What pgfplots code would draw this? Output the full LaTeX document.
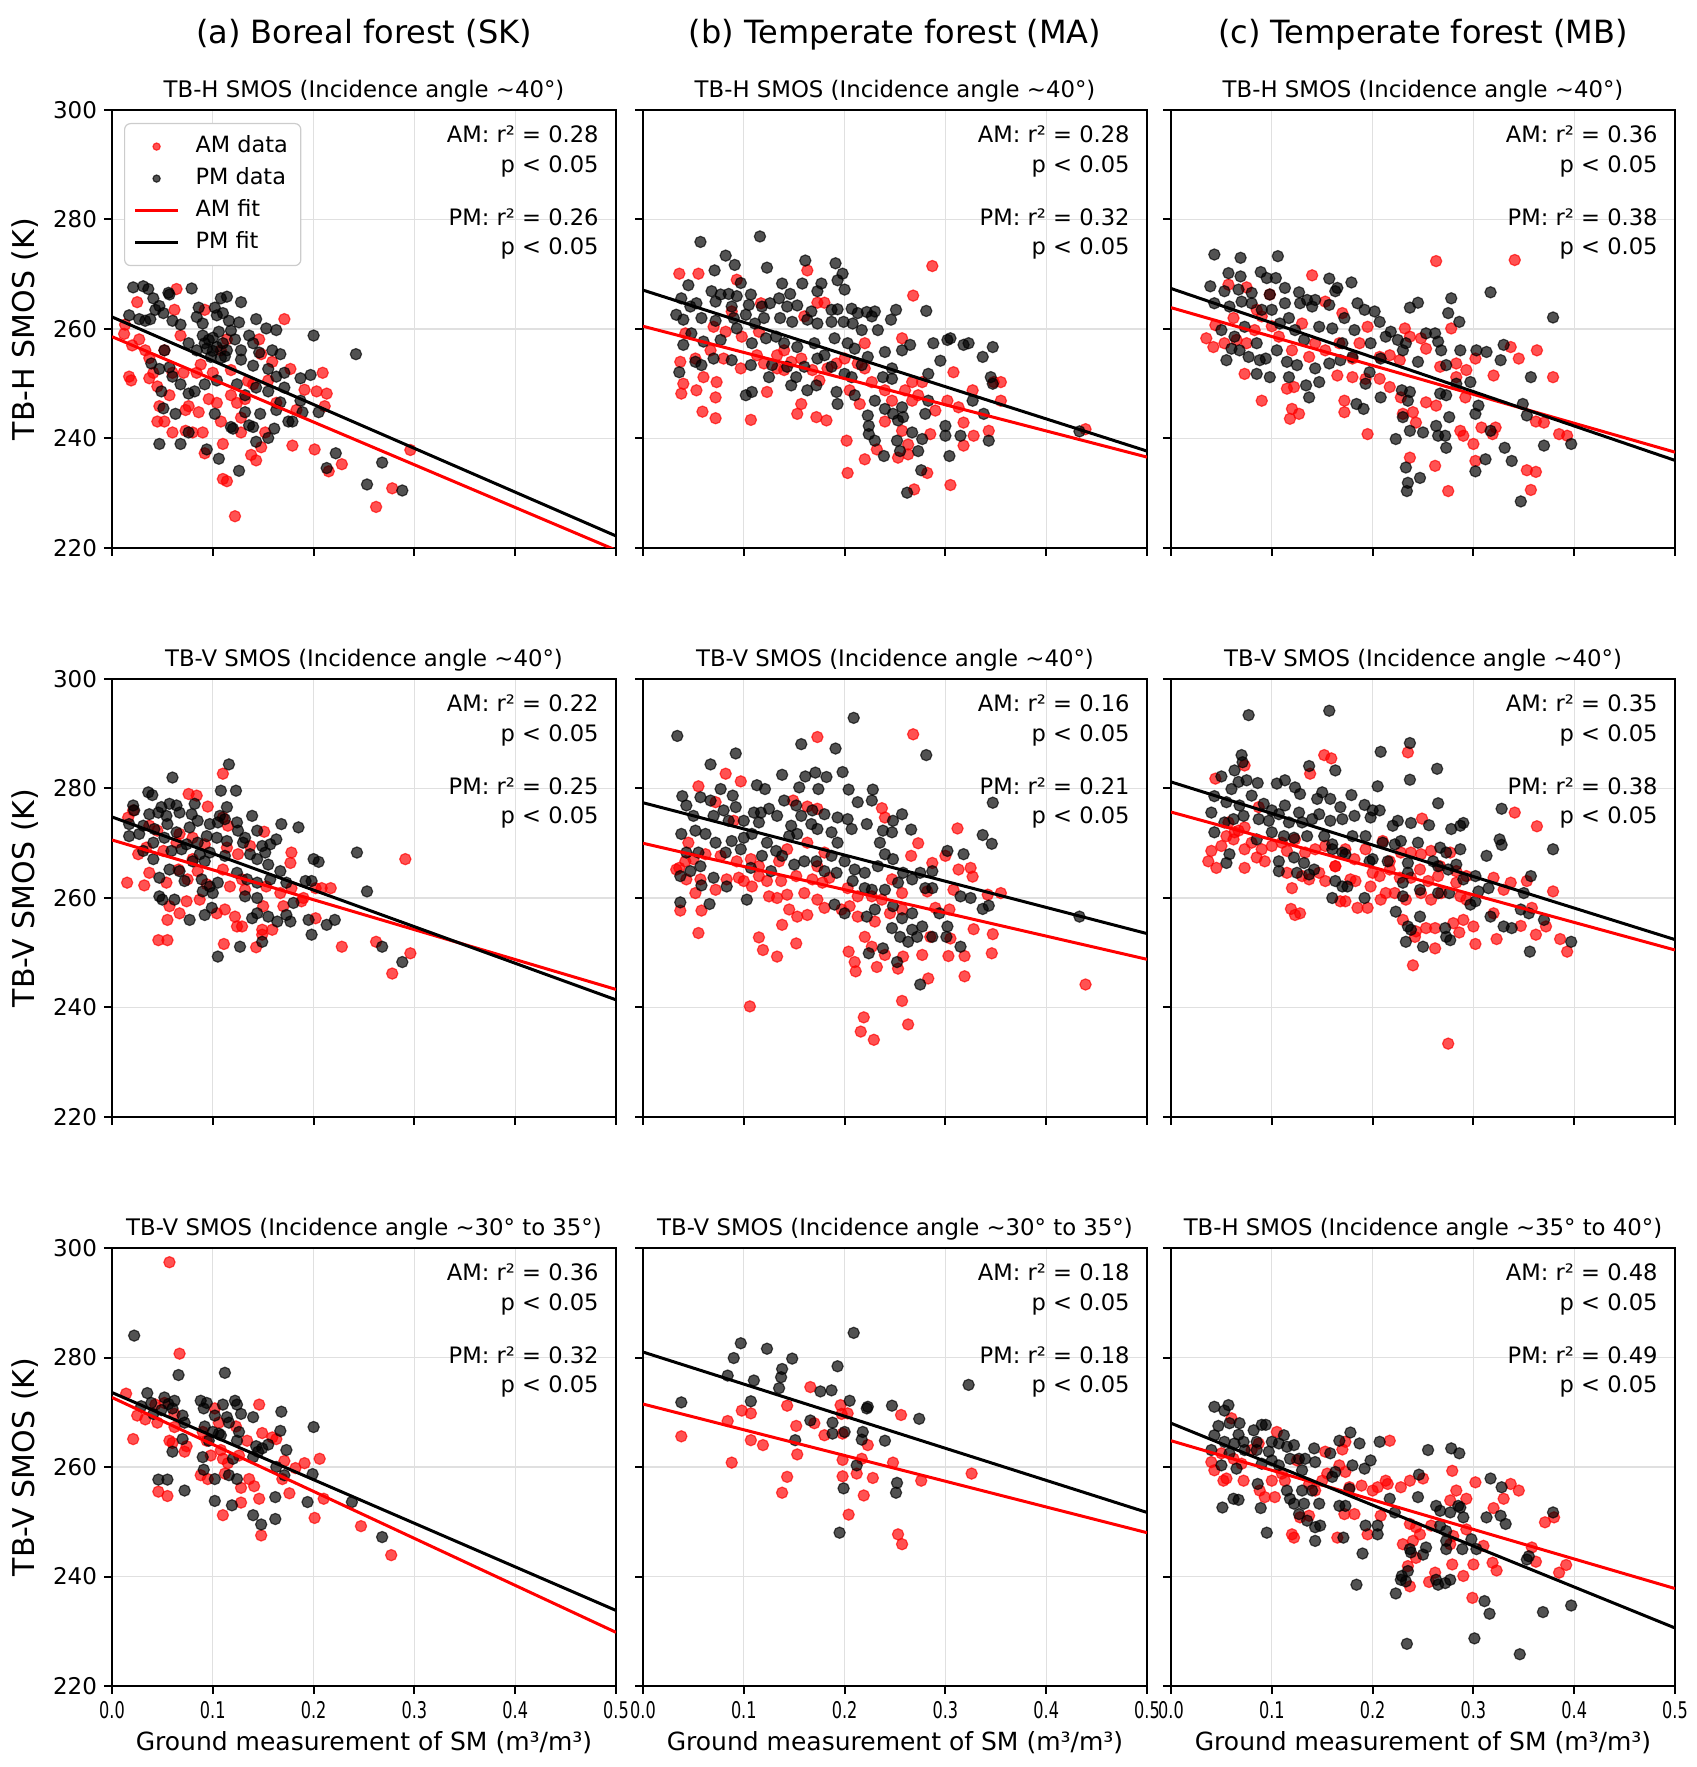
\documentclass[border=0pt]{standalone}
\usepackage{fontspec}
\setmainfont{DejaVu Sans}
\usepackage{graphicx}
\usepackage{pgfplots}
\pgfplotsset{compat=1.18}
\newcommand{\xt}[1]{\scalebox{0.7}[1]{#1}}
\newcommand{\annf}{\fontsize{11.3}{13.5}\selectfont}
\newcommand{\ann}[2]{%
\node[anchor=base east,font=\annf,inner sep=0pt,xshift=-8.5pt,yshift=-16.4pt] at (rel axis cs:1,1) {AM: r² = #1};
\node[anchor=base east,font=\annf,inner sep=0pt,xshift=-8.5pt,yshift=-31.1pt] at (rel axis cs:1,1) {p < 0.05};
\node[anchor=base east,font=\annf,inner sep=0pt,xshift=-8.5pt,yshift=-57.6pt] at (rel axis cs:1,1) {PM: r² = #2};
\node[anchor=base east,font=\annf,inner sep=0pt,xshift=-8.5pt,yshift=-72.4pt] at (rel axis cs:1,1) {p < 0.05};
}
\newcommand{\coltitle}[1]{\node[anchor=base,font=\fontsize{16}{19}\selectfont,inner sep=0pt,yshift=33pt] at (rel axis cs:0.5,1) {#1};}
\pgfplotsset{
 panel/.style={
  scale only axis, width=252pt, height=219pt,
  xmin=0, xmax=0.5, ymin=220, ymax=300,
  xtick={0,0.1,0.2,0.3,0.4,0.5}, ytick={220,240,260,280,300},
  xticklabels={}, yticklabels={},
  tick pos=left, tick align=outside,
  major tick length=4pt,
  tick style={black, line width=1pt},
  axis line style={black, line width=1.1pt},
  grid=major, major grid style={black!12, line width=0.6pt},
  clip mode=individual,
  ticklabel style={font=\fontsize{11.5}{13}\selectfont},
  every axis title/.style={at={(0.5,1)}, anchor=base, yshift=6.3pt, inner sep=0pt, font=\fontsize{11.4}{13}\selectfont},
 },
 leftcol/.style={yticklabels={220,240,260,280,300},
  ylabel style={font=\fontsize{15}{17}\selectfont, at={(axis description cs:-0.1726,0.5)}, anchor=center}},
 botrow/.style={xticklabels={\xt{0.0},\xt{0.1},\xt{0.2},\xt{0.3},\xt{0.4},\xt{0.5}},
  xlabel={Ground measurement of SM (m³/m³)},
  xlabel style={font=\fontsize{12.5}{15}\selectfont, at={(axis description cs:0.5,-0.1288)}, anchor=center}},
 am/.style={only marks, mark=*, mark size=2.8pt, mark options={fill=red, draw=red, opacity=0.68, line width=0.6pt}},
 pm/.style={only marks, mark=*, mark size=2.8pt, mark options={fill=black, draw=black, opacity=0.68, line width=0.6pt}},
 amfit/.style={red, line width=1.5pt, no marks},
 pmfit/.style={black, line width=1.5pt, no marks},
}
\begin{document}
\begin{tikzpicture}
\path[use as bounding box] (0,0) rectangle (848.5pt,883.5pt);
% ---------------- Row 1, panel a
\begin{axis}[panel, leftcol, at={(56pt,609.5pt)}, anchor=south west,
 title={TB-H SMOS (Incidence angle \textasciitilde40°)}, ylabel={TB-H SMOS (K)},
 legend image code/.code={\draw[mark repeat=2,mark phase=2,#1] plot coordinates {(0pt,0pt) (10.75pt,0pt) (21.5pt,0pt)};},
 legend image post style={mark size=1.8pt},
 legend style={at={(0,1)}, anchor=north west, xshift=6pt, yshift=-6.5pt, draw=black!20, rounded corners=3pt, fill=white, font=\fontsize{11.2}{13}\selectfont, inner xsep=4.5pt, inner ysep=4.5pt, column sep=6pt, row sep=2pt, nodes={inner xsep=2pt, inner ysep=1.5pt, text height=8.5pt, text depth=2.5pt}, line width=0.6pt},
 legend cell align=left]
\addplot[am] coordinates {(0.013,260.8)(0.012,259.1)(0.017,251.3)(0.019,250.6)(0.025,264.9)(0.027,258.1)(0.033,256.1)(0.037,251.0)(0.041,252.0)(0.045,243.1)(0.047,245.9)(0.052,243.1)(0.057,247.9)(0.062,263.5)(0.064,267.3)(0.068,258.8)(0.071,252.0)(0.073,245.2)(0.076,245.9)(0.080,241.1)(0.084,252.0)(0.090,241.1)(0.092,237.3)(0.092,263.5)(0.096,247.2)(0.100,252.0)(0.104,246.5)(0.108,243.1)(0.110,239.0)(0.110,232.6)(0.114,232.2)(0.114,258.1)(0.118,247.9)(0.122,225.8)(0.124,246.5)(0.128,241.1)(0.132,247.2)(0.138,237.0)(0.143,236.0)(0.146,258.1)(0.148,238.4)(0.152,241.1)(0.159,254.0)(0.163,246.5)(0.171,261.8)(0.177,252.7)(0.179,238.7)(0.183,245.2)(0.191,248.9)(0.201,238.0)(0.203,248.6)(0.209,252.0)(0.213,248.2)(0.211,245.9)(0.215,234.0)(0.228,235.3)(0.262,227.5)(0.278,230.9)(0.296,237.9)(0.060,241.1)(0.073,241.4)(0.128,243.8)(0.108,256.1)(0.037,254.7)(0.052,256.1)(0.060,252.0)(0.086,244.8)(0.140,249.9)(0.148,255.4)(0.155,250.6)(0.020,257.0)(0.045,249.5)(0.088,253.5)(0.118,252.5)(0.135,250.5)};
\addplot[pm] coordinates {(0.021,267.6)(0.031,267.8)(0.036,267.3)(0.041,265.6)(0.043,263.5)(0.017,262.5)(0.027,261.8)(0.038,261.8)(0.047,264.2)(0.057,266.3)(0.056,266.6)(0.079,267.4)(0.051,262.9)(0.060,261.5)(0.068,260.8)(0.084,262.2)(0.086,263.9)(0.102,263.9)(0.108,265.6)(0.114,265.9)(0.110,262.9)(0.116,261.5)(0.128,264.9)(0.126,261.2)(0.143,261.8)(0.153,260.1)(0.163,259.8)(0.136,258.8)(0.090,258.8)(0.092,257.4)(0.094,256.4)(0.104,256.7)(0.110,257.4)(0.114,256.1)(0.122,258.1)(0.128,256.1)(0.140,257.4)(0.146,255.7)(0.159,256.1)(0.167,255.4)(0.171,252.0)(0.187,251.0)(0.197,251.6)(0.200,258.8)(0.242,255.4)(0.039,253.7)(0.047,252.7)(0.057,253.0)(0.060,251.3)(0.068,249.9)(0.049,248.6)(0.082,248.6)(0.092,249.9)(0.104,250.6)(0.108,254.7)(0.124,249.9)(0.132,247.9)(0.143,249.3)(0.155,252.7)(0.163,251.3)(0.171,249.3)(0.155,248.6)(0.163,245.2)(0.175,243.1)(0.189,244.8)(0.205,244.8)(0.147,244.5)(0.132,244.8)(0.136,242.4)(0.140,242.1)(0.118,242.1)(0.102,244.5)(0.076,248.2)(0.051,245.5)(0.063,244.5)(0.047,239.0)(0.068,239.0)(0.076,241.1)(0.094,238.0)(0.106,236.3)(0.126,234.1)(0.143,239.4)(0.155,240.1)(0.161,241.8)(0.179,243.1)(0.222,237.3)(0.213,234.6)(0.268,235.6)(0.253,231.6)(0.288,230.5)(0.120,241.8)(0.033,261.5)(0.052,256.1)(0.076,257.4)(0.084,256.1)(0.100,258.4)(0.128,254.4)(0.140,253.3)(0.167,246.6)(0.187,246.9)(0.096,258.0)(0.100,256.0)(0.098,254.9)(0.106,259.5)(0.112,255.0)(0.118,259.7)(0.104,262.5)(0.090,261.0)};
\addplot[amfit] coordinates {(0,258.6)(0.5,219.6)};
\addplot[pmfit] coordinates {(0,262.2)(0.5,222.2)};
\legend{AM data, PM data, AM fit, PM fit}
\ann{0.28}{0.26}
\coltitle{(a) Boreal forest (SK)}
\end{axis}
% ---------------- Row 1, panel b
\begin{axis}[panel, at={(321.5pt,609.5pt)}, anchor=south west,
 title={TB-H SMOS (Incidence angle \textasciitilde40°)}]
\addplot[am] coordinates {(0.036,270.1)(0.055,270.1)(0.093,269.0)(0.163,270.7)(0.287,271.5)(0.268,266.1)(0.173,264.8)(0.180,264.8)(0.088,263.2)(0.117,264.7)(0.160,262.3)(0.070,260.4)(0.082,259.5)(0.098,258.6)(0.115,259.5)(0.042,259.2)(0.037,254.0)(0.052,254.6)(0.067,256.1)(0.080,254.6)(0.097,252.8)(0.113,255.2)(0.120,253.7)(0.133,255.2)(0.140,256.1)(0.147,254.0)(0.157,254.6)(0.168,252.5)(0.175,250.6)(0.183,252.8)(0.192,253.7)(0.200,254.6)(0.213,253.7)(0.220,252.8)(0.220,257.4)(0.227,250.3)(0.240,248.8)(0.247,246.9)(0.257,258.3)(0.267,250.3)(0.260,248.8)(0.273,247.9)(0.277,250.3)(0.267,246.9)(0.290,245.1)(0.308,252.1)(0.302,246.9)(0.313,245.7)(0.327,248.8)(0.355,250.3)(0.355,246.9)(0.348,250.3)(0.318,242.9)(0.328,240.5)(0.343,241.4)(0.318,238.7)(0.038,248.2)(0.040,250.0)(0.053,248.8)(0.060,251.2)(0.072,247.5)(0.073,250.3)(0.059,244.9)(0.072,243.7)(0.107,243.4)(0.123,248.5)(0.140,252.5)(0.153,244.5)(0.157,246.3)(0.172,243.9)(0.182,243.3)(0.202,239.6)(0.203,233.7)(0.205,248.8)(0.215,246.3)(0.220,236.2)(0.232,238.0)(0.240,243.1)(0.253,236.5)(0.257,241.4)(0.263,238.9)(0.263,237.1)(0.269,230.7)(0.282,233.7)(0.285,240.8)(0.305,231.5)(0.439,241.7)(0.133,252.8)};
\addplot[pm] coordinates {(0.057,275.9)(0.116,276.9)(0.082,273.4)(0.091,271.7)(0.071,270.7)(0.123,271.2)(0.161,272.5)(0.191,272.0)(0.198,270.1)(0.193,268.9)(0.200,267.2)(0.045,268.0)(0.097,268.4)(0.068,266.9)(0.077,266.3)(0.085,266.4)(0.093,266.0)(0.107,266.3)(0.138,268.3)(0.158,268.3)(0.177,268.3)(0.173,266.9)(0.146,266.4)(0.135,265.6)(0.038,265.6)(0.047,264.1)(0.053,264.7)(0.072,265.0)(0.088,264.1)(0.105,264.4)(0.118,264.1)(0.126,264.7)(0.143,264.1)(0.153,264.3)(0.167,263.2)(0.187,263.5)(0.193,263.6)(0.207,263.7)(0.213,262.9)(0.222,263.1)(0.230,263.2)(0.251,263.5)(0.281,263.3)(0.246,261.7)(0.033,262.6)(0.040,261.7)(0.058,262.0)(0.072,261.5)(0.090,262.0)(0.102,262.6)(0.111,261.0)(0.120,262.0)(0.136,262.0)(0.148,261.3)(0.163,261.7)(0.173,261.0)(0.187,261.3)(0.199,261.3)(0.208,261.0)(0.227,262.3)(0.217,259.8)(0.233,259.8)(0.048,259.2)(0.040,257.1)(0.060,257.7)(0.077,258.0)(0.093,260.1)(0.108,257.4)(0.122,258.3)(0.132,258.6)(0.140,257.4)(0.153,256.7)(0.170,257.4)(0.180,255.2)(0.190,258.3)(0.203,257.4)(0.210,256.4)(0.223,254.9)(0.240,255.8)(0.257,256.1)(0.265,257.1)(0.288,257.4)(0.302,258.0)(0.305,258.3)(0.318,257.1)(0.323,257.4)(0.347,256.7)(0.337,254.9)(0.295,254.2)(0.036,252.1)(0.052,254.0)(0.058,253.4)(0.070,254.6)(0.088,254.3)(0.107,253.4)(0.128,253.4)(0.143,253.1)(0.160,253.1)(0.173,254.6)(0.187,253.1)(0.200,251.8)(0.217,253.4)(0.247,252.8)(0.102,247.9)(0.108,248.5)(0.125,251.2)(0.147,249.7)(0.152,251.2)(0.163,248.8)(0.172,249.7)(0.192,248.5)(0.193,246.3)(0.207,251.2)(0.210,247.9)(0.230,246.9)(0.238,251.2)(0.247,250.9)(0.240,245.4)(0.248,244.5)(0.253,243.3)(0.257,245.7)(0.258,243.9)(0.267,241.1)(0.283,251.8)(0.283,246.9)(0.280,244.5)(0.277,239.9)(0.300,242.3)(0.300,240.5)(0.315,240.5)(0.327,246.9)(0.338,244.5)(0.345,251.2)(0.343,239.6)(0.347,250.0)(0.223,244.2)(0.224,242.3)(0.224,240.8)(0.230,239.6)(0.239,236.8)(0.252,239.6)(0.255,237.7)(0.273,237.7)(0.276,234.2)(0.304,236.8)(0.262,230.1)(0.433,241.3)};
\addplot[amfit] coordinates {(0,260.5)(0.5,236.6)};
\addplot[pmfit] coordinates {(0,267.1)(0.5,237.7)};
\ann{0.28}{0.32}
\coltitle{(b) Temperate forest (MA)}
\end{axis}
% ---------------- Row 1, panel c
\begin{axis}[panel, at={(585.5pt,609.5pt)}, anchor=south west,
 title={TB-H SMOS (Incidence angle \textasciitilde40°)}]
\addplot[am] coordinates {(0.140,269.8)(0.263,272.4)(0.341,272.6)(0.057,268.1)(0.075,267.6)(0.098,266.3)(0.153,265.0)(0.170,262.9)(0.195,260.4)(0.232,260.1)(0.278,260.1)(0.044,260.7)(0.035,258.3)(0.042,256.7)(0.053,257.4)(0.065,258.0)(0.075,257.4)(0.083,259.8)(0.090,262.3)(0.107,258.6)(0.120,256.1)(0.137,254.9)(0.143,257.4)(0.153,256.1)(0.167,257.4)(0.180,254.6)(0.187,257.4)(0.207,254.9)(0.217,255.2)(0.227,254.3)(0.237,258.6)(0.248,258.3)(0.253,256.4)(0.267,253.1)(0.283,253.7)(0.293,252.5)(0.302,254.6)(0.320,251.5)(0.337,256.7)(0.345,254.6)(0.363,256.1)(0.379,251.2)(0.073,251.8)(0.090,246.9)(0.115,249.1)(0.122,249.4)(0.120,245.4)(0.118,243.6)(0.127,244.5)(0.165,251.5)(0.180,251.2)(0.172,246.9)(0.172,244.8)(0.193,250.9)(0.207,250.9)(0.217,249.4)(0.228,247.5)(0.230,244.5)(0.240,244.8)(0.243,242.9)(0.253,246.6)(0.263,246.0)(0.283,251.2)(0.292,247.5)(0.287,241.4)(0.290,240.5)(0.300,239.0)(0.308,242.0)(0.322,242.0)(0.319,240.8)(0.362,243.1)(0.370,242.9)(0.385,240.8)(0.393,240.5)(0.195,240.8)(0.237,236.5)(0.262,235.0)(0.275,230.4)(0.302,235.9)(0.353,234.2)(0.362,233.9)(0.357,230.6)(0.062,262.0)(0.085,263.5)(0.100,260.5)(0.130,261.0)};
\addplot[pm] coordinates {(0.043,273.6)(0.069,273.0)(0.106,273.3)(0.057,270.2)(0.069,269.6)(0.089,270.4)(0.095,269.3)(0.104,269.3)(0.039,267.8)(0.053,266.9)(0.067,267.2)(0.080,266.6)(0.098,266.3)(0.113,267.5)(0.127,266.7)(0.135,265.3)(0.143,265.3)(0.157,269.2)(0.165,267.5)(0.179,268.5)(0.163,266.9)(0.043,264.7)(0.058,264.1)(0.070,265.0)(0.080,264.7)(0.090,263.5)(0.100,263.5)(0.113,264.7)(0.128,264.7)(0.140,264.1)(0.157,264.4)(0.185,264.7)(0.192,263.5)(0.202,263.2)(0.207,261.3)(0.237,263.9)(0.245,264.8)(0.278,265.6)(0.317,266.7)(0.275,262.9)(0.286,261.3)(0.379,262.1)(0.050,259.8)(0.063,258.6)(0.073,260.4)(0.085,257.4)(0.108,261.0)(0.117,262.0)(0.123,259.8)(0.132,258.0)(0.147,260.4)(0.160,260.1)(0.172,262.0)(0.182,259.8)(0.170,257.4)(0.198,257.4)(0.213,258.6)(0.218,259.5)(0.225,258.0)(0.233,257.4)(0.253,259.2)(0.262,259.2)(0.265,257.7)(0.287,256.1)(0.303,256.1)(0.313,255.8)(0.330,257.1)(0.327,254.3)(0.055,254.3)(0.060,256.4)(0.068,256.1)(0.077,254.9)(0.088,254.3)(0.094,254.6)(0.105,256.1)(0.115,254.0)(0.125,253.4)(0.143,252.8)(0.157,253.7)(0.168,254.3)(0.180,254.9)(0.197,252.1)(0.208,254.6)(0.230,256.1)(0.245,254.0)(0.268,256.1)(0.273,253.4)(0.085,251.8)(0.098,251.2)(0.117,251.2)(0.134,249.7)(0.137,247.5)(0.147,250.3)(0.193,250.0)(0.184,246.3)(0.191,245.4)(0.208,247.5)(0.229,248.8)(0.237,248.5)(0.235,246.9)(0.267,248.2)(0.273,247.9)(0.283,250.0)(0.297,250.3)(0.357,251.2)(0.305,246.0)(0.302,244.5)(0.276,243.9)(0.230,243.9)(0.237,241.4)(0.223,239.9)(0.250,241.1)(0.263,242.3)(0.265,240.5)(0.272,240.5)(0.273,238.3)(0.317,241.4)(0.331,238.3)(0.349,246.3)(0.353,244.2)(0.370,238.7)(0.397,239.0)(0.312,236.2)(0.302,234.0)(0.338,235.9)(0.233,234.7)(0.235,231.9)(0.234,230.4)(0.247,232.8)(0.347,228.5)};
\addplot[amfit] coordinates {(0,263.9)(0.5,237.5)};
\addplot[pmfit] coordinates {(0,267.4)(0.5,236.0)};
\ann{0.36}{0.38}
\coltitle{(c) Temperate forest (MB)}
\end{axis}
% ---------------- Row 2, panel a
\begin{axis}[panel, leftcol, at={(56pt,325pt)}, anchor=south west,
 title={TB-V SMOS (Incidence angle \textasciitilde40°)}, ylabel={TB-V SMOS (K)}]
\addplot[am] coordinates {(0.110,282.7)(0.076,279.0)(0.084,278.7)(0.095,276.7)(0.016,274.7)(0.021,276.0)(0.037,273.2)(0.045,272.3)(0.067,271.7)(0.080,271.0)(0.110,274.7)(0.115,273.2)(0.151,272.1)(0.026,268.0)(0.034,269.2)(0.051,268.6)(0.064,270.1)(0.080,267.1)(0.092,269.8)(0.114,269.2)(0.125,268.0)(0.137,269.5)(0.178,268.3)(0.177,266.4)(0.015,262.8)(0.032,262.3)(0.037,264.6)(0.054,262.8)(0.066,265.2)(0.075,263.4)(0.085,264.9)(0.094,262.5)(0.110,265.2)(0.117,262.1)(0.129,263.4)(0.132,261.5)(0.153,262.1)(0.167,260.9)(0.178,261.8)(0.190,260.0)(0.202,261.8)(0.208,261.8)(0.217,261.8)(0.057,258.5)(0.067,257.2)(0.074,259.4)(0.087,259.7)(0.104,257.2)(0.112,257.9)(0.122,256.6)(0.124,254.8)(0.129,254.8)(0.150,258.5)(0.170,258.5)(0.188,259.4)(0.202,256.3)(0.055,256.0)(0.149,254.2)(0.159,254.2)(0.149,253.3)(0.046,252.3)(0.055,252.3)(0.111,251.6)(0.143,251.0)(0.228,251.1)(0.262,252.0)(0.291,267.1)(0.296,249.9)(0.278,246.2)};
\addplot[pm] coordinates {(0.116,284.4)(0.060,282.0)(0.036,279.3)(0.040,278.8)(0.108,279.6)(0.123,279.6)(0.021,276.9)(0.049,276.6)(0.057,277.2)(0.064,276.9)(0.082,277.2)(0.114,276.6)(0.022,276.0)(0.037,275.3)(0.046,275.6)(0.054,275.0)(0.067,275.6)(0.079,275.3)(0.107,275.0)(0.112,274.4)(0.139,275.0)(0.168,273.5)(0.185,272.9)(0.017,273.5)(0.031,273.2)(0.042,272.6)(0.055,273.5)(0.064,272.0)(0.077,272.9)(0.085,274.1)(0.097,273.5)(0.105,273.8)(0.124,273.8)(0.125,272.3)(0.132,271.0)(0.144,272.3)(0.017,271.3)(0.027,271.7)(0.041,270.1)(0.052,271.0)(0.074,269.8)(0.085,270.1)(0.094,271.3)(0.104,271.0)(0.114,270.4)(0.130,270.1)(0.149,269.5)(0.157,269.8)(0.163,270.7)(0.031,268.6)(0.059,268.6)(0.069,268.9)(0.087,268.0)(0.097,268.3)(0.112,267.7)(0.137,268.0)(0.152,268.3)(0.041,267.1)(0.057,265.2)(0.080,266.7)(0.092,266.7)(0.144,267.1)(0.155,266.1)(0.167,264.9)(0.047,263.7)(0.067,264.9)(0.072,263.1)(0.089,263.4)(0.097,262.1)(0.105,262.8)(0.124,264.6)(0.134,263.4)(0.144,262.8)(0.157,263.4)(0.173,262.8)(0.200,267.1)(0.205,266.6)(0.192,263.1)(0.198,263.1)(0.243,268.3)(0.253,261.2)(0.047,260.3)(0.050,259.7)(0.062,259.7)(0.090,261.2)(0.100,260.9)(0.132,260.3)(0.144,260.0)(0.180,259.1)(0.077,256.0)(0.092,256.9)(0.099,258.2)(0.139,256.3)(0.144,257.2)(0.155,256.6)(0.164,255.7)(0.173,256.9)(0.177,255.7)(0.195,256.0)(0.213,255.1)(0.221,256.0)(0.198,253.3)(0.149,252.0)(0.127,251.1)(0.105,249.3)(0.268,251.1)(0.288,248.3)};
\addplot[amfit] coordinates {(0,270.6)(0.5,243.3)};
\addplot[pmfit] coordinates {(0,274.8)(0.5,241.4)};
\ann{0.22}{0.25}
\end{axis}
% ---------------- Row 2, panel b
\begin{axis}[panel, at={(321.5pt,325pt)}, anchor=south west,
 title={TB-V SMOS (Incidence angle \textasciitilde40°)}]
\addplot[am] coordinates {(0.173,289.4)(0.268,289.9)(0.082,282.7)(0.097,281.3)(0.055,280.4)(0.072,277.5)(0.163,276.7)(0.173,276.3)(0.237,276.4)(0.240,274.7)(0.149,277.8)(0.090,274.1)(0.312,272.7)(0.273,270.0)(0.266,267.7)(0.287,266.4)(0.313,265.2)(0.325,265.5)(0.327,263.9)(0.300,267.7)(0.036,265.5)(0.045,270.1)(0.042,266.7)(0.050,267.1)(0.062,268.0)(0.077,267.7)(0.093,266.7)(0.107,267.1)(0.115,265.8)(0.135,266.7)(0.143,268.9)(0.163,270.1)(0.180,268.3)(0.173,265.8)(0.033,265.2)(0.043,263.4)(0.052,260.9)(0.057,263.4)(0.072,261.5)(0.083,263.4)(0.095,263.7)(0.100,263.1)(0.108,262.1)(0.115,264.0)(0.123,263.1)(0.137,263.1)(0.143,260.6)(0.152,264.0)(0.160,260.9)(0.168,263.4)(0.178,262.8)(0.185,263.7)(0.203,261.8)(0.213,260.3)(0.227,260.3)(0.237,259.7)(0.247,263.4)(0.257,260.9)(0.282,261.2)(0.308,261.5)(0.342,260.6)(0.355,260.9)(0.037,257.7)(0.058,257.7)(0.125,260.3)(0.133,260.0)(0.145,257.9)(0.153,256.6)(0.163,256.9)(0.173,259.7)(0.180,258.2)(0.197,257.9)(0.205,258.5)(0.213,256.6)(0.230,255.7)(0.245,257.2)(0.257,257.9)(0.290,258.2)(0.304,257.9)(0.328,254.3)(0.347,253.4)(0.055,253.6)(0.138,255.1)(0.115,252.8)(0.119,250.5)(0.133,249.3)(0.152,251.7)(0.204,250.2)(0.210,248.3)(0.211,246.6)(0.220,252.9)(0.227,251.1)(0.232,247.4)(0.240,249.6)(0.253,247.1)(0.258,249.3)(0.277,249.6)(0.283,245.3)(0.285,252.9)(0.303,249.4)(0.305,252.6)(0.319,249.4)(0.319,245.7)(0.346,249.9)(0.257,241.2)(0.106,240.2)(0.219,238.2)(0.216,235.6)(0.229,234.1)(0.263,236.9)(0.439,244.2)};
\addplot[pm] coordinates {(0.034,289.6)(0.209,292.9)(0.157,288.1)(0.191,287.3)(0.281,286.1)(0.092,286.4)(0.067,284.4)(0.138,282.5)(0.161,282.2)(0.171,282.9)(0.182,282.1)(0.198,283.0)(0.077,279.9)(0.089,278.7)(0.113,280.6)(0.121,279.9)(0.155,280.2)(0.174,279.9)(0.204,279.8)(0.228,279.8)(0.039,278.6)(0.057,278.4)(0.067,277.8)(0.043,276.9)(0.080,276.0)(0.092,276.6)(0.110,275.6)(0.117,275.6)(0.125,276.3)(0.140,277.8)(0.152,276.9)(0.168,276.0)(0.180,275.3)(0.213,277.5)(0.227,277.8)(0.347,277.4)(0.050,275.0)(0.070,275.0)(0.085,274.1)(0.100,274.1)(0.115,273.8)(0.133,275.0)(0.147,273.2)(0.157,275.0)(0.167,273.5)(0.193,274.7)(0.203,274.4)(0.222,273.5)(0.248,274.1)(0.257,275.3)(0.038,271.7)(0.052,272.3)(0.062,271.7)(0.072,270.1)(0.088,270.4)(0.100,271.0)(0.108,271.7)(0.123,270.1)(0.132,268.6)(0.145,271.3)(0.153,271.7)(0.173,272.6)(0.187,272.0)(0.193,270.1)(0.207,272.6)(0.238,272.3)(0.247,272.0)(0.266,272.5)(0.337,271.5)(0.346,269.9)(0.043,268.3)(0.055,268.3)(0.082,268.3)(0.097,268.9)(0.118,267.7)(0.138,267.7)(0.160,266.7)(0.172,266.7)(0.187,267.7)(0.200,266.7)(0.235,270.1)(0.240,268.0)(0.248,267.1)(0.302,268.6)(0.318,268.0)(0.047,264.9)(0.057,265.8)(0.107,265.5)(0.127,264.9)(0.150,266.1)(0.180,264.9)(0.192,264.6)(0.210,265.2)(0.220,264.6)(0.233,265.8)(0.258,264.6)(0.275,264.6)(0.287,264.9)(0.037,264.0)(0.070,263.7)(0.083,262.1)(0.103,259.7)(0.058,262.3)(0.208,263.1)(0.220,261.8)(0.227,261.5)(0.240,261.5)(0.253,262.8)(0.267,263.4)(0.280,261.8)(0.287,261.8)(0.037,259.2)(0.066,258.9)(0.190,258.8)(0.200,257.2)(0.222,256.6)(0.230,257.9)(0.248,258.5)(0.257,256.3)(0.267,257.2)(0.315,260.3)(0.325,260.0)(0.337,258.0)(0.343,258.6)(0.294,257.2)(0.302,254.8)(0.247,254.5)(0.267,254.2)(0.277,254.8)(0.255,252.9)(0.263,252.0)(0.272,252.9)(0.287,252.9)(0.301,252.9)(0.315,251.1)(0.238,250.8)(0.224,249.9)(0.252,248.3)(0.275,244.2)(0.433,256.6)};
\addplot[amfit] coordinates {(0,270.0)(0.5,248.8)};
\addplot[pmfit] coordinates {(0,277.4)(0.5,253.5)};
\ann{0.16}{0.21}
\end{axis}
% ---------------- Row 2, panel c
\begin{axis}[panel, at={(585.5pt,325pt)}, anchor=south west,
 title={TB-V SMOS (Incidence angle \textasciitilde40°)}]
\addplot[am] coordinates {(0.152,286.1)(0.159,285.5)(0.235,286.6)(0.073,284.2)(0.138,282.7)(0.044,281.8)(0.341,275.6)(0.363,273.1)(0.249,274.5)(0.037,266.7)(0.040,268.6)(0.045,265.5)(0.050,269.5)(0.055,271.3)(0.062,270.7)(0.067,272.3)(0.073,268.9)(0.073,265.5)(0.080,270.1)(0.085,267.4)(0.090,268.9)(0.093,266.7)(0.100,269.5)(0.073,272.9)(0.087,276.6)(0.057,273.8)(0.063,272.0)(0.110,270.1)(0.115,268.6)(0.123,270.7)(0.133,268.3)(0.143,268.9)(0.153,269.5)(0.163,265.8)(0.173,268.9)(0.182,267.1)(0.193,268.9)(0.210,270.4)(0.217,266.7)(0.228,268.3)(0.238,268.3)(0.248,268.0)(0.258,268.6)(0.267,265.8)(0.277,268.3)(0.115,264.6)(0.130,264.0)(0.137,263.4)(0.147,264.6)(0.153,263.1)(0.163,265.8)(0.178,263.4)(0.183,263.1)(0.200,264.6)(0.207,264.0)(0.217,265.2)(0.227,263.7)(0.238,263.7)(0.247,265.2)(0.255,263.1)(0.265,264.0)(0.283,264.9)(0.293,264.0)(0.120,261.8)(0.168,259.4)(0.173,259.4)(0.185,258.2)(0.195,258.2)(0.198,262.1)(0.208,259.7)(0.213,260.9)(0.222,260.9)(0.233,259.7)(0.248,260.9)(0.258,259.7)(0.268,260.9)(0.283,262.8)(0.287,260.3)(0.293,259.7)(0.320,263.7)(0.330,261.5)(0.337,262.8)(0.353,263.1)(0.379,261.2)(0.119,258.0)(0.123,256.9)(0.128,257.2)(0.230,256.0)(0.243,253.9)(0.253,254.5)(0.262,254.5)(0.280,255.4)(0.290,256.0)(0.300,254.8)(0.320,257.2)(0.323,252.5)(0.347,254.9)(0.358,258.2)(0.362,253.3)(0.372,254.8)(0.386,252.5)(0.393,250.2)(0.242,252.9)(0.286,253.7)(0.302,251.6)(0.262,250.8)(0.240,247.7)(0.275,233.4)};
\addplot[pm] coordinates {(0.077,293.4)(0.157,294.2)(0.237,288.3)(0.208,286.7)(0.070,286.1)(0.071,284.8)(0.063,283.3)(0.137,284.1)(0.163,283.3)(0.264,283.6)(0.237,281.6)(0.205,280.4)(0.265,277.3)(0.328,276.3)(0.050,282.2)(0.043,278.6)(0.060,279.9)(0.067,281.2)(0.075,281.5)(0.086,281.0)(0.105,280.9)(0.113,281.5)(0.123,280.2)(0.128,279.0)(0.040,275.6)(0.055,277.5)(0.068,276.9)(0.080,278.7)(0.092,277.2)(0.100,276.0)(0.113,276.9)(0.127,275.6)(0.145,278.1)(0.150,279.3)(0.158,278.1)(0.168,276.6)(0.179,278.8)(0.192,277.0)(0.200,276.0)(0.207,276.0)(0.043,272.0)(0.053,273.8)(0.062,274.4)(0.072,275.0)(0.087,274.4)(0.097,274.1)(0.107,275.3)(0.117,273.8)(0.130,273.8)(0.140,274.4)(0.147,275.3)(0.158,274.1)(0.170,274.4)(0.182,275.0)(0.198,274.7)(0.220,273.2)(0.225,274.1)(0.238,273.7)(0.256,273.3)(0.278,272.6)(0.287,273.2)(0.290,273.7)(0.379,268.9)(0.326,270.7)(0.328,269.7)(0.055,266.4)(0.058,268.0)(0.085,270.7)(0.100,272.0)(0.112,271.3)(0.122,271.0)(0.135,271.3)(0.152,271.3)(0.160,269.8)(0.170,268.3)(0.180,271.3)(0.193,271.3)(0.210,270.1)(0.222,269.8)(0.228,270.4)(0.245,270.1)(0.267,269.2)(0.273,268.3)(0.287,268.9)(0.313,267.7)(0.107,266.7)(0.122,267.4)(0.132,266.4)(0.142,265.2)(0.160,268.9)(0.173,268.0)(0.200,267.1)(0.215,266.7)(0.235,266.4)(0.260,266.7)(0.265,265.8)(0.275,265.2)(0.283,266.1)(0.107,264.9)(0.125,264.6)(0.137,264.3)(0.163,263.1)(0.170,262.1)(0.175,262.1)(0.192,260.0)(0.197,266.7)(0.230,262.8)(0.235,264.6)(0.247,261.5)(0.265,260.9)(0.276,260.9)(0.290,263.4)(0.302,264.0)(0.305,261.2)(0.315,261.8)(0.350,260.9)(0.357,264.0)(0.160,260.0)(0.230,260.3)(0.223,257.5)(0.247,256.6)(0.297,258.8)(0.302,259.4)(0.317,256.6)(0.330,254.8)(0.338,254.5)(0.347,257.9)(0.355,257.2)(0.370,256.0)(0.235,254.8)(0.238,254.2)(0.233,252.0)(0.250,251.1)(0.272,254.5)(0.273,252.9)(0.277,252.3)(0.356,250.2)(0.397,252.0)};
\addplot[amfit] coordinates {(0,275.7)(0.5,250.5)};
\addplot[pmfit] coordinates {(0,281.2)(0.5,252.4)};
\ann{0.35}{0.38}
\end{axis}
% ---------------- Row 3, panel a
\begin{axis}[panel, leftcol, botrow, at={(56pt,40.5pt)}, anchor=south west,
 title={TB-V SMOS (Incidence angle \textasciitilde30° to 35°)}, ylabel={TB-V SMOS (K)}]
\addplot[am] coordinates {(0.057,297.4)(0.067,280.7)(0.014,273.4)(0.021,265.1)(0.025,269.4)(0.033,268.7)(0.043,271.4)(0.045,268.1)(0.052,271.7)(0.062,269.7)(0.057,264.8)(0.060,264.4)(0.062,267.3)(0.074,263.8)(0.072,262.8)(0.046,255.5)(0.055,254.7)(0.090,266.4)(0.094,264.8)(0.098,262.1)(0.088,258.5)(0.095,257.8)(0.102,270.7)(0.106,268.1)(0.108,263.1)(0.110,261.5)(0.112,258.8)(0.115,260.7)(0.123,267.4)(0.126,262.1)(0.128,256.2)(0.128,253.5)(0.136,257.8)(0.134,264.8)(0.141,256.5)(0.146,271.4)(0.146,254.2)(0.148,247.5)(0.149,266.2)(0.159,265.4)(0.163,265.1)(0.169,257.8)(0.171,261.1)(0.176,255.2)(0.182,259.8)(0.191,260.7)(0.206,261.5)(0.201,250.7)(0.210,254.2)(0.110,251.2)(0.247,249.2)(0.277,243.9)};
\addplot[pm] coordinates {(0.022,284.0)(0.066,276.8)(0.112,277.2)(0.035,273.5)(0.039,271.7)(0.052,272.7)(0.056,271.5)(0.062,272.1)(0.029,271.1)(0.041,269.7)(0.049,270.4)(0.060,270.7)(0.070,269.4)(0.072,268.1)(0.088,272.1)(0.094,271.7)(0.091,270.7)(0.110,271.4)(0.122,272.1)(0.124,271.4)(0.102,269.4)(0.114,269.1)(0.128,269.7)(0.140,269.1)(0.168,270.1)(0.092,267.4)(0.100,266.4)(0.106,266.1)(0.116,268.1)(0.124,264.8)(0.126,266.4)(0.167,266.6)(0.200,267.3)(0.070,265.1)(0.060,262.8)(0.096,264.8)(0.108,265.8)(0.143,263.8)(0.145,262.8)(0.149,263.4)(0.155,264.1)(0.173,263.1)(0.120,261.5)(0.140,261.8)(0.090,261.8)(0.091,259.5)(0.102,257.8)(0.102,253.8)(0.116,258.5)(0.124,257.8)(0.163,260.0)(0.171,258.5)(0.199,258.7)(0.046,257.7)(0.055,257.7)(0.072,255.7)(0.119,253.0)(0.140,251.2)(0.148,249.5)(0.162,250.5)(0.162,254.5)(0.194,253.6)(0.238,253.6)(0.268,247.2)};
\addplot[amfit] coordinates {(0,272.7)(0.5,229.8)};
\addplot[pmfit] coordinates {(0,273.6)(0.5,233.8)};
\ann{0.36}{0.32}
\end{axis}
% ---------------- Row 3, panel b
\begin{axis}[panel, botrow, at={(321.5pt,40.5pt)}, anchor=south west,
 title={TB-V SMOS (Incidence angle \textasciitilde30° to 35°)}]
\addplot[am] coordinates {(0.038,265.6)(0.084,268.4)(0.098,270.3)(0.107,269.8)(0.088,260.8)(0.107,264.9)(0.119,264.0)(0.143,271.2)(0.152,267.5)(0.153,262.3)(0.143,258.2)(0.138,255.3)(0.166,274.6)(0.170,268.0)(0.180,265.8)(0.196,271.3)(0.197,269.7)(0.203,269.8)(0.198,266.1)(0.198,261.3)(0.217,261.5)(0.223,264.0)(0.198,258.3)(0.212,258.8)(0.228,258.0)(0.248,260.8)(0.256,269.5)(0.219,254.8)(0.204,251.3)(0.276,257.5)(0.326,258.8)(0.253,247.7)(0.257,245.9)};
\addplot[pm] coordinates {(0.038,271.8)(0.097,282.6)(0.123,281.6)(0.090,279.9)(0.148,279.8)(0.209,284.5)(0.193,278.4)(0.138,277.9)(0.137,276.4)(0.084,276.7)(0.110,275.8)(0.135,274.4)(0.176,273.8)(0.187,274.0)(0.107,272.0)(0.205,272.1)(0.223,271.0)(0.222,270.7)(0.247,271.2)(0.323,275.0)(0.166,268.5)(0.188,268.1)(0.188,266.1)(0.200,266.4)(0.218,266.4)(0.217,265.0)(0.240,264.8)(0.274,268.8)(0.151,264.9)(0.212,260.3)(0.252,257.1)(0.251,255.3)(0.199,256.1)(0.195,248.0)};
\addplot[amfit] coordinates {(0,271.5)(0.5,248.0)};
\addplot[pmfit] coordinates {(0,281.0)(0.5,251.7)};
\ann{0.18}{0.18}
\end{axis}
% ---------------- Row 3, panel c
\begin{axis}[panel, botrow, at={(585.5pt,40.5pt)}, anchor=south west,
 title={TB-H SMOS (Incidence angle \textasciitilde35° to 40°)}]
\addplot[am] coordinates {(0.060,268.9)(0.105,266.4)(0.217,264.8)(0.170,263.2)(0.173,264.6)(0.153,262.8)(0.040,260.9)(0.043,259.4)(0.052,257.5)(0.055,257.9)(0.050,262.5)(0.062,261.5)(0.072,257.5)(0.070,260.6)(0.080,263.1)(0.087,264.3)(0.088,255.7)(0.093,254.5)(0.100,257.5)(0.103,254.5)(0.110,258.8)(0.113,257.5)(0.125,261.2)(0.137,256.9)(0.143,255.7)(0.150,257.5)(0.155,258.8)(0.167,260.3)(0.173,259.1)(0.177,256.3)(0.189,256.6)(0.200,255.7)(0.205,256.3)(0.213,257.5)(0.215,256.9)(0.228,256.3)(0.237,257.5)(0.250,257.9)(0.279,259.3)(0.302,257.2)(0.337,256.9)(0.345,255.7)(0.283,255.7)(0.293,254.2)(0.330,254.2)(0.277,253.9)(0.320,252.5)(0.128,250.8)(0.137,251.1)(0.120,247.7)(0.122,247.1)(0.165,247.1)(0.172,251.4)(0.182,251.4)(0.195,247.7)(0.208,251.1)(0.237,249.6)(0.243,249.0)(0.247,247.7)(0.230,245.9)(0.240,246.5)(0.243,243.4)(0.258,249.3)(0.277,245.9)(0.280,247.4)(0.293,248.6)(0.310,245.6)(0.300,242.2)(0.319,242.5)(0.323,241.1)(0.358,245.3)(0.362,242.7)(0.371,249.9)(0.380,250.8)(0.385,240.7)(0.392,242.1)(0.235,241.9)(0.237,238.2)(0.262,240.7)(0.279,242.2)(0.290,240.1)(0.256,239.0)(0.299,236.1)};
\addplot[pm] coordinates {(0.043,271.0)(0.053,270.3)(0.057,271.3)(0.047,267.5)(0.043,265.8)(0.058,268.0)(0.068,268.0)(0.082,266.7)(0.090,267.7)(0.094,267.7)(0.067,265.9)(0.053,264.6)(0.063,264.3)(0.072,264.6)(0.085,264.6)(0.100,264.6)(0.112,265.8)(0.040,263.1)(0.058,262.5)(0.073,263.1)(0.085,263.1)(0.097,262.8)(0.107,264.3)(0.115,263.7)(0.122,264.0)(0.127,261.5)(0.133,261.5)(0.142,263.4)(0.050,260.3)(0.065,259.7)(0.090,260.6)(0.100,261.2)(0.107,260.3)(0.118,261.5)(0.130,259.4)(0.143,260.9)(0.158,262.5)(0.163,259.1)(0.167,264.8)(0.178,266.3)(0.187,264.3)(0.207,264.6)(0.180,260.3)(0.198,261.2)(0.192,259.7)(0.255,263.1)(0.278,263.4)(0.286,262.5)(0.246,258.6)(0.317,257.9)(0.328,256.3)(0.062,254.2)(0.067,254.0)(0.051,252.6)(0.086,256.9)(0.089,252.5)(0.095,248.0)(0.115,255.7)(0.118,254.2)(0.122,253.3)(0.127,251.4)(0.132,253.3)(0.135,250.2)(0.143,249.0)(0.148,249.3)(0.143,246.5)(0.130,255.7)(0.140,255.7)(0.147,253.3)(0.160,258.2)(0.167,252.9)(0.173,252.9)(0.177,256.0)(0.193,249.3)(0.205,249.3)(0.205,247.7)(0.190,244.2)(0.184,238.5)(0.171,247.1)(0.217,254.2)(0.222,251.7)(0.245,254.5)(0.263,252.9)(0.267,252.0)(0.277,251.7)(0.285,252.9)(0.290,250.8)(0.267,249.3)(0.273,248.3)(0.287,252.6)(0.313,250.8)(0.327,251.1)(0.332,249.6)(0.379,251.7)(0.237,245.0)(0.238,244.4)(0.250,244.0)(0.253,245.3)(0.273,246.5)(0.273,245.0)(0.289,245.0)(0.298,246.8)(0.303,245.0)(0.355,243.7)(0.353,243.1)(0.229,240.1)(0.228,239.4)(0.235,241.0)(0.233,239.1)(0.263,239.4)(0.265,238.5)(0.272,238.8)(0.277,239.4)(0.223,236.9)(0.311,235.5)(0.316,233.2)(0.369,233.5)(0.397,234.7)(0.234,227.7)(0.301,228.7)(0.346,225.8)};
\addplot[amfit] coordinates {(0,264.8)(0.5,237.8)};
\addplot[pmfit] coordinates {(0,268.0)(0.5,230.6)};
\ann{0.48}{0.49}
\end{axis}
\end{tikzpicture}
\end{document}
